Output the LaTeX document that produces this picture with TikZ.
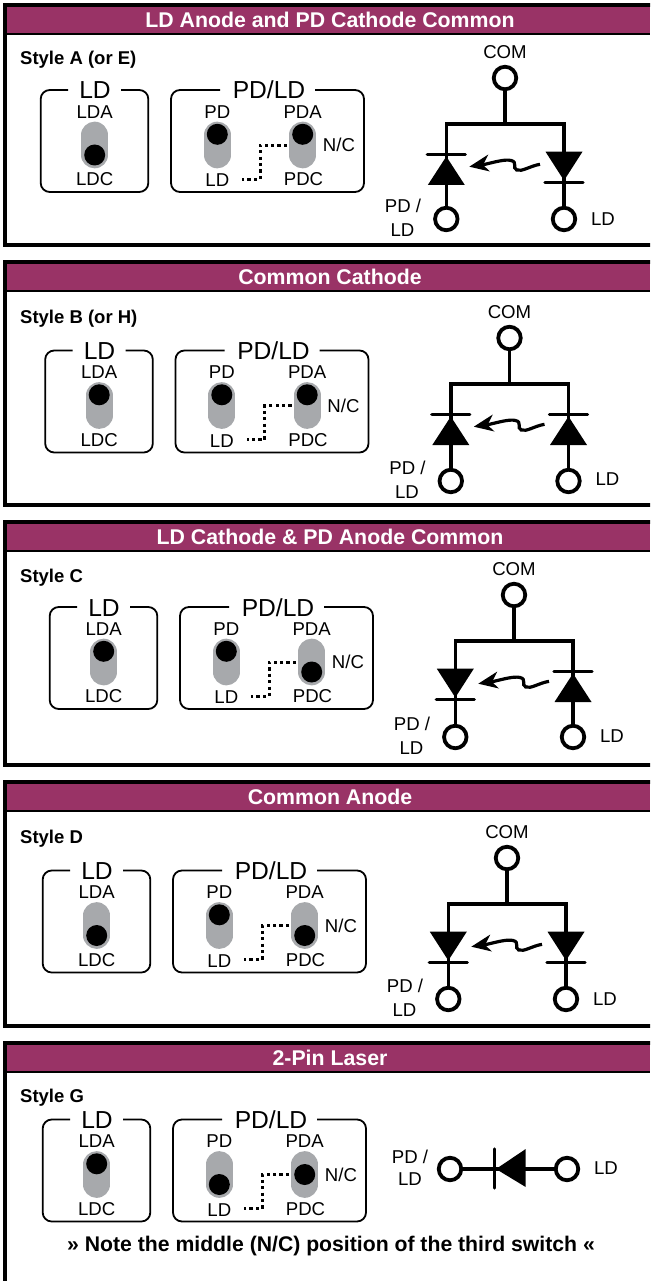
\documentclass[tikz,border=0pt]{standalone}
\usepackage{fontspec}
\setmainfont{Liberation Sans}

\definecolor{hdrpurple}{HTML}{993366}
\definecolor{slotgray}{HTML}{A7A9AC}

\tikzset{
  lab/.style={inner sep=0pt,font=\fontsize{18.6}{20}\selectfont,text height=13pt,text depth=0pt},
  boxtitle/.style={inner sep=0pt,font=\fontsize{24.6}{26}\selectfont,text height=17pt,text depth=0pt},
  stylelab/.style={inner sep=0pt,anchor=west,font=\bfseries\fontsize{18.5}{20}\selectfont,text height=13pt,text depth=0pt},
  hdrtext/.style={inner sep=0pt,text=white,font=\bfseries\fontsize{21.3}{24}\selectfont,text height=15pt,text depth=0pt},
  frame/.style={line width=4pt,miter limit=10},
  boxline/.style={line width=1.8pt,rounded corners=9pt},
  slot/.style={line width=26.7pt,line cap=round,slotgray},
  knob/.style={circle,fill=black,inner sep=0pt,minimum size=21pt},
  jumper/.style={line width=3pt,dash pattern=on 3.2pt off 3.2pt},
  wire/.style={line width=3.5pt},
  bar/.style={line width=3.3pt,line cap=round},
  pin/.style={circle,draw,line width=3.8pt,fill=white,inner sep=0pt,minimum size=22.5pt}
}

% top, bottom, title: frame is open on the right
\newcommand{\panelframe}[4]{
  \fill[hdrpurple] (7,#2) rectangle (650,#2+26);
  \draw[line width=2pt] (7,#2+27) -- (650,#2+27);
  \draw[frame] (655,#3) -- (5.3,#3) -- (5.3,#2-2) -- (655,#2-2);
  \node[hdrtext] (#1-title) at (330,#2+13) {#4};
}

% prefix, dx, dy, knob y of LD, PD, PDA
\newcommand{\switches}[6]{
  \begin{scope}[shift={(#2,#3)}]
    % LD box
    \draw[boxline] (68,90) -- (40.7,90) -- (40.7,192) -- (148.3,192) -- (148.3,90) -- (121,90);
    \node[boxtitle] (#1-ldbox) at (95,90.5) {LD};
    \draw[slot] (94.7,135) -- (94.7,155);
    \node[knob] (#1-ldknob) at (94.7,#4) {};
    \node[lab] (#1-lda) at (94.7,111.7) {LDA};
    \node[lab] (#1-ldc) at (94.7,179.3) {LDC};
    % PD/LD box
    \draw[boxline] (220,90) -- (171,90) -- (171,192) -- (364,192) -- (364,90) -- (315,90);
    \node[boxtitle] (#1-pdbox) at (269,90.5) {PD/LD};
    \draw[slot] (217.3,135) -- (217.3,155);
    \draw[slot] (302.7,135) -- (302.7,155);
    \node[knob] (#1-pdknob) at (217.3,#5) {};
    \node[knob] (#1-pdaknob) at (302.7,#6) {};
    \node[lab] (#1-pd) at (217.3,111.7) {PD};
    \node[lab] (#1-ld) at (217.3,180) {LD};
    \node[lab] (#1-pda) at (302.7,111.7) {PDA};
    \node[lab] (#1-pdc) at (303.5,179.3) {PDC};
    \node[lab] (#1-nc) at (339,145.3) {N/C};
    \coordinate (#1-jfrom) at (287,145.3);
    \coordinate (#1-jto) at (242,179.3);
    \draw[jumper] (#1-jfrom) -- (260,145.3) -- (260,179.3) -- (#1-jto);
  \end{scope}
}

\newcommand{\diodeup}[1]{
  \fill ({#1-18.5},185) -- ({#1+18.5},185) -- (#1,156.5) -- cycle;
  \draw[bar] ({#1-19},154.7) -- ({#1+19},154.7);
}
\newcommand{\diodedown}[1]{
  \fill ({#1-18.5},151.7) -- ({#1+18.5},151.7) -- (#1,180.5) -- cycle;
  \draw[bar] ({#1-19},182.3) -- ({#1+19},182.3);
}

% prefix, dx, dy, pin y, left diode, right diode
\newcommand{\schematic}[6]{
  \begin{scope}[shift={(#2,#3)}]
    \node[lab] (#1-comlab) at (505,52) {COM};
    \node[pin] (#1-com) at (505,78) {};
    \node[pin] (#1-left) at (446.3,#4) {};
    \node[pin] (#1-right) at (564,#4) {};
    \draw[wire] (#1-com) -- (505,124);
    \draw[wire] (#1-left) -- (446.3,124) -- (564,124) -- (#1-right);
    #5{446.3}
    #6{564}
    % light from LD to PD
    \draw[line width=3.2pt] (540,164.3) .. controls (530,166) and (522,172) .. (516.7,170) .. controls (512,168) and (518,162) .. (511,160.5) .. controls (505,159) and (495,162) .. (482,165);
    \fill (469.3,166.7) -- (488.3,154.5) -- (483,165) -- (490,171.5) -- cycle;
    \node[lab] (#1-pdlab) at (403,#4-13) {PD /};
    \node[lab] (#1-ldlab) at (402.5,#4+11) {LD};
    \node[lab] (#1-rightlab) at (603,219) {LD};
  \end{scope}
}

\begin{document}
\begin{tikzpicture}[x=1pt,y=-1pt]
  \useasboundingbox (0,0) rectangle (650,1281);
  \clip (0,0) rectangle (650,1281);

  % Style A
  \panelframe{a}{7}{245}{LD Anode and PD Cathode Common}
  \node[stylelab] (a-style) at (20,58) {Style A (or E)};
  \switches{a}{0}{0}{155}{134.3}{134.3}
  \schematic{a}{0}{0}{219}{\diodeup}{\diodedown}

  % Style B
  \panelframe{b}{264}{504.7}{Common Cathode}
  \node[stylelab] (b-style) at (20,316.5) {Style B (or H)};
  \switches{b}{4.5}{260.5}{134.3}{134.3}{134.3}
  \schematic{b}{4.5}{260}{221}{\diodeup}{\diodeup}

  % Style C
  \panelframe{c}{524}{765}{LD Cathode \& PD Anode Common}
  \node[stylelab] (c-style) at (20,575.7) {Style C};
  \switches{c}{9}{517}{134.3}{134.3}{155}
  \schematic{c}{9}{517}{220}{\diodedown}{\diodeup}

  % Style D
  \panelframe{d}{784}{1026}{Common Anode}
  \node[stylelab] (d-style) at (20,837) {Style D};
  \switches{d}{2}{780.5}{155}{134.3}{155}
  \schematic{d}{2}{780}{219}{\diodedown}{\diodedown}

  % Style G, no bottom edge
  \panelframe{g}{1045}{1290}{2-Pin Laser}
  \node[stylelab] (g-style) at (20,1096) {Style G};
  \switches{g}{2}{1029.5}{134.3}{155}{145}
  \node[pin] (g-left) at (450,1169) {};
  \node[pin] (g-right) at (567,1169) {};
  \draw[wire] (g-left) -- (g-right);
  \fill (525.7,1149) -- (525.7,1187) -- (496,1169) -- cycle;
  \draw[bar] (494.6,1149) -- (494.6,1188);
  \node[lab] (g-pdlab) at (410,1157) {PD /};
  \node[lab] (g-ldlab) at (410,1179) {LD};
  \node[lab] (g-rightlab) at (606,1168) {LD};
  \node[inner sep=0pt,font=\bfseries\fontsize{21.2}{24}\selectfont] (g-note) at (331,1246.5) {» Note the middle (N/C) position of the third switch «};
\end{tikzpicture}
\end{document}
